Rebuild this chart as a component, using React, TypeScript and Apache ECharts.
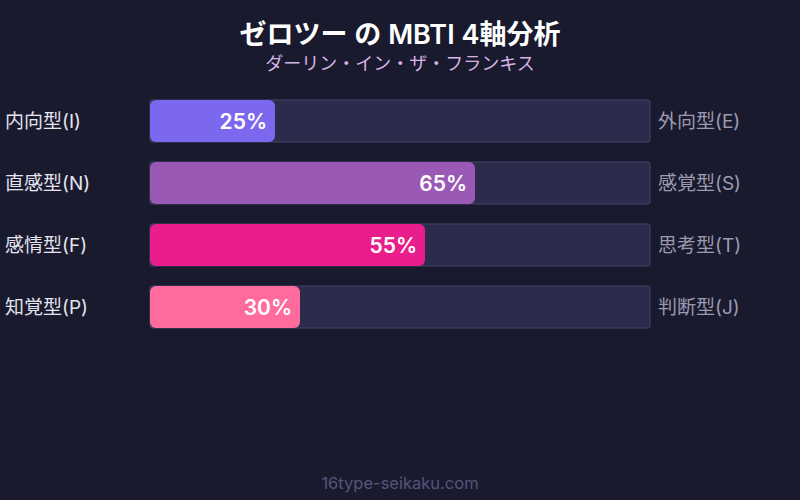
import React, { useEffect, useRef } from "react";
import * as echarts from "echarts";

const leftLabels = ["内向型(I)", "直感型(N)", "感情型(F)", "知覚型(P)"];
const rightLabels = ["外向型(E)", "感覚型(S)", "思考型(T)", "判断型(J)"];
const values = [25, 65, 55, 30];
const colors = ["#7b68ee", "#9b59b6", "#e91e8c", "#ff6b9d"];

const FONT = "Inter, 'Noto Sans CJK JP', sans-serif";

export default function App() {
  const ref = useRef<HTMLDivElement>(null);
  useEffect(() => {
    if (!ref.current) return;
    const chart = echarts.init(ref.current, null, { renderer: "svg" });
    chart.setOption({
      animation: false,
      backgroundColor: "#1a1a2e",
      title: {
        text: "ゼロツー の MBTI 4軸分析",
        subtext: "ダーリン・イン・ザ・フランキス",
        left: "center",
        top: 16,
        itemGap: 7,
        textStyle: { color: "#ffffff", fontSize: 27, fontWeight: 600, fontFamily: FONT },
        subtextStyle: { color: "#d6b4e6", fontSize: 18, fontFamily: FONT },
      },
      graphic: [
        {
          type: "text",
          left: "center",
          top: 475,
          style: { text: "16type-seikaku.com", fill: "#55557a", fontSize: 16.5, fontFamily: FONT },
        },
      ],
      grid: { left: 150, right: 150, top: 90, height: 248 },
      xAxis: { type: "value", min: 0, max: 100, show: false },
      yAxis: [
        {
          type: "category",
          inverse: true,
          data: leftLabels,
          axisLine: { show: false },
          axisTick: { show: false },
          axisLabel: {
            color: "#e4e4ee",
            fontSize: 19,
            align: "left",
            margin: 145,
            padding: [0, 0, 4, 0],
            fontFamily: FONT,
          },
        },
        {
          type: "category",
          inverse: true,
          position: "right",
          data: rightLabels,
          axisLine: { show: false },
          axisTick: { show: false },
          axisLabel: {
            color: "#9a9ab0",
            fontSize: 19,
            margin: 8,
            padding: [0, 0, 4, 0],
            fontFamily: FONT,
          },
        },
      ],
      series: [
        {
          type: "bar",
          yAxisIndex: 0,
          barWidth: 42,
          data: values.map((v, i) => ({ value: v, itemStyle: { color: colors[i] } })),
          itemStyle: { borderRadius: 6 },
          showBackground: true,
          backgroundStyle: {
            color: "#2d2b4b",
            borderColor: "#45436a",
            borderWidth: 1,
            borderRadius: 2,
          },
          label: {
            show: true,
            position: "insideRight",
            formatter: "{c}%",
            color: "#ffffff",
            fontSize: 21,
            fontWeight: 600,
            distance: 8,
            fontFamily: FONT,
          },
        },
      ],
    });
    return () => chart.dispose();
  }, []);
  return (
    <div
      ref={ref}
      style={{ position: "fixed", left: 0, top: 0, width: 800, height: 500 }}
    />
  );
}
